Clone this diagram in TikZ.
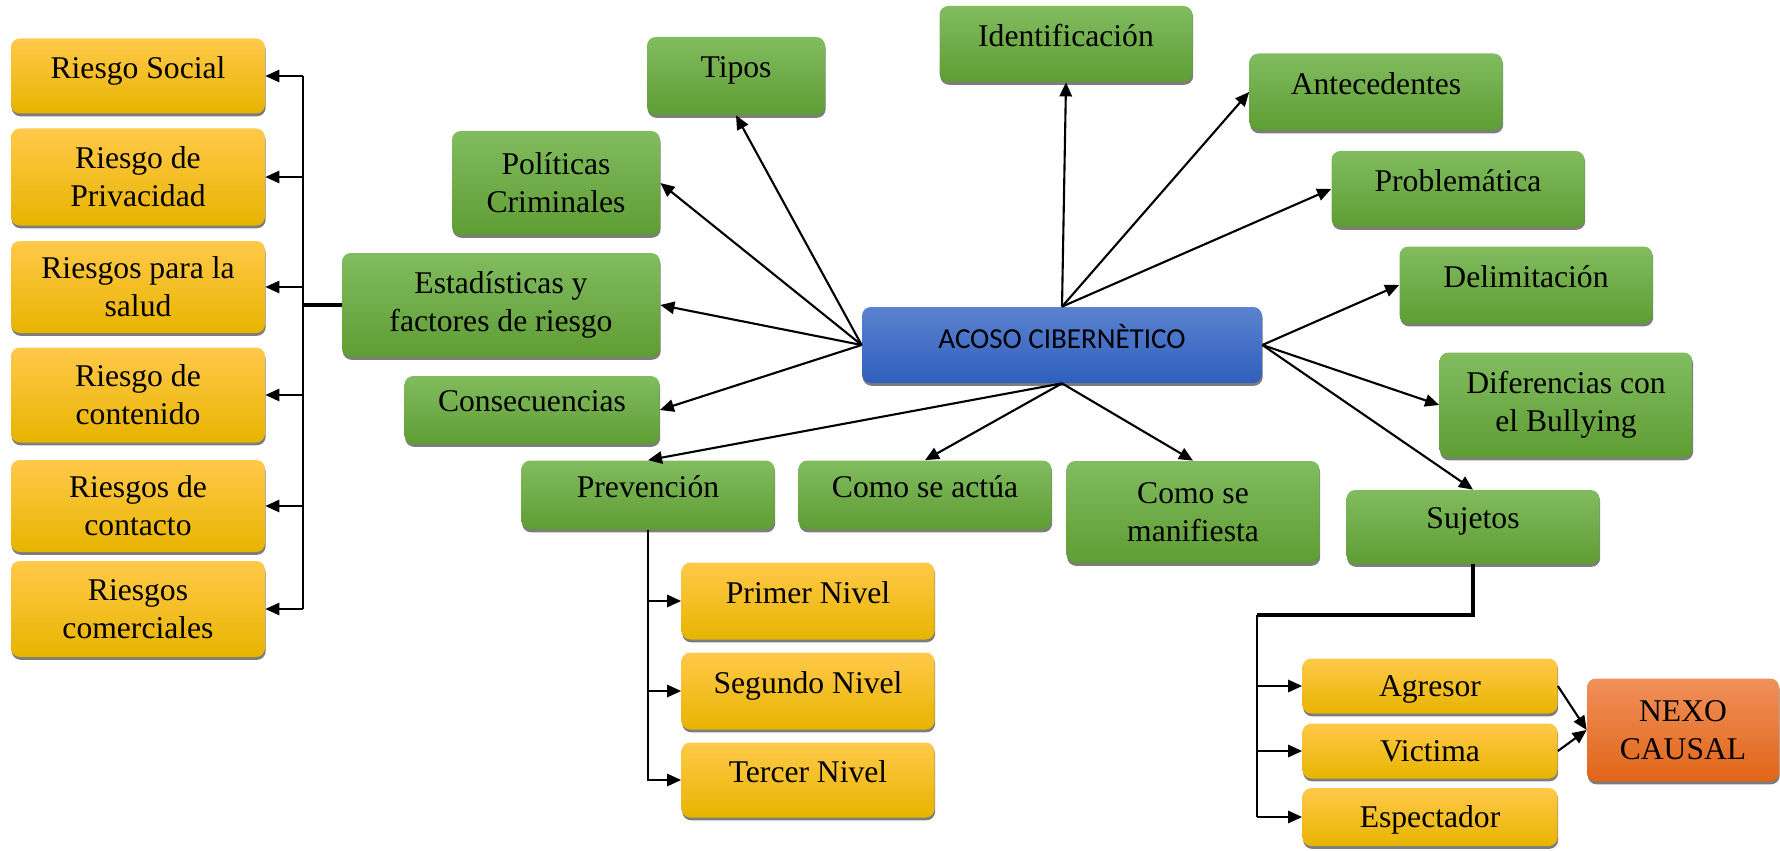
\documentclass[tikz,border=0pt]{standalone}
\usepackage{fontspec}
\setmainfont{Liberation Serif}
\newfontfamily\calibri{Carlito}
\usetikzlibrary{arrows.meta,shadows}

\definecolor{verdeA}{RGB}{129,188,95}
\definecolor{verdeB}{RGB}{95,157,52}
\definecolor{amaA}{RGB}{255,201,74}
\definecolor{amaB}{RGB}{232,180,0}
\definecolor{azulA}{RGB}{91,130,208}
\definecolor{azulB}{RGB}{47,95,189}
\definecolor{narA}{RGB}{240,144,90}
\definecolor{narB}{RGB}{224,101,24}

\tikzset{
  caja/.style={rectangle, rounded corners=5pt, align=center, inner sep=2pt,
    font=\fontsize{18}{21.5}\selectfont,
    drop shadow={shadow xshift=0.4pt, shadow yshift=-1.6pt, opacity=0.85, fill=black!60}},
  tam/.style 2 args={minimum width=#1*0.02cm, minimum height=#2*0.02cm},
  verde/.style={caja, top color=verdeA, bottom color=verdeB},
  amarilla/.style={caja, top color=amaA, bottom color=amaB},
  azul/.style={caja, top color=azulA, bottom color=azulB},
  naranja/.style={caja, top color=narA, bottom color=narB},
  una/.style={text depth=10pt},
  baja/.style={text height=16pt, text depth=4pt},
  flecha/.style={line width=1.2pt, -{Triangle[length=8pt,width=7pt]}},
  linea/.style={line width=1.2pt},
  tronco/.style={line width=2.2pt}
}

\begin{document}
\begin{tikzpicture}[x=0.02cm, y=-0.02cm]
			%%%%% START %%%%%
			\useasboundingbox (0,0) rectangle (1780,851);
			
			\node[azul, tam={400}{76}, una, font=\calibri\fontsize{16.5}{19}\selectfont] (acoso) at (1062,345) {ACOSO CIBERN\`ETICO};
			
			% ramas verdes
			\node[verde, tam={178}{78}, una] (tipos) at (736,76) {Tipos};
			\node[verde, tam={208}{104}] (pol) at (556,183) {Políticas\\Criminales};
			\node[verde, tam={318}{104}] (est) at (501,305) {Estadísticas y\\factores de riesgo};
			\node[verde, tam={255}{68}, una] (cons) at (532,410) {Consecuencias};
			\node[verde, tam={253}{76}, una] (ident) at (1066,44) {Identificación};
			\node[verde, tam={253}{77}, una] (ante) at (1376,92) {Antecedentes};
			\node[verde, tam={253}{76}, una] (prob) at (1458,189) {Problemática};
			\node[verde, tam={253}{77}, una] (delim) at (1526,285) {Delimitación};
			\node[verde, tam={253}{105}] (dif) at (1566,405) {Diferencias con\\el Bullying};
			\node[verde, tam={253}{74}, una] (suj) at (1473,527) {Sujetos};
			\node[verde, tam={253}{102}] (man) at (1193,512) {Como se\\manifiesta};
			\node[verde, tam={253}{69}, una] (act) at (925,495) {Como se actúa};
			\node[verde, tam={253}{69}, una] (prev) at (648,495) {Prevención};
			
			\draw[flecha] (acoso.west) -- (tipos.south);
			\draw[flecha] (acoso.west) -- (pol.east);
			\draw[flecha] (acoso.west) -- (est.east);
			\draw[flecha] (acoso.west) -- (cons.east);
			\draw[flecha] (acoso.north) -- (ident.south);
			\draw[flecha] (acoso.north) -- (ante.west);
			\draw[flecha] (acoso.north) -- (prob.west);
			\draw[flecha] (acoso.east) -- (delim.west);
			\draw[flecha] (acoso.east) -- (dif.west);
			\draw[flecha] (acoso.east) -- (suj.north);
			\draw[flecha] (acoso.south) -- (prev.north);
			\draw[flecha] (acoso.south) -- (act.north);
			\draw[flecha] (acoso.south) -- (man.north);
			
			% riesgos
			\node[amarilla, tam={254}{75}, una] (rs) at (138,76) {Riesgo Social};
			\node[amarilla, tam={254}{97}] (rp) at (138,177) {Riesgo de\\Privacidad};
			\node[amarilla, tam={254}{92}] (rsal) at (138,287) {Riesgos para la\\salud};
			\node[amarilla, tam={254}{95}] (rc) at (138,395) {Riesgo de\\contenido};
			\node[amarilla, tam={254}{92}] (rct) at (138,506) {Riesgos de\\contacto};
			\node[amarilla, tam={254}{96}] (rcom) at (138,609) {Riesgos\\comerciales};
			
			\coordinate (eje) at (303,305);
			\draw[tronco] (est.west) -- (eje);
			\draw[linea] (eje |- rs.east) -- (eje |- rcom.east);
			\foreach \r in {rs,rp,rsal,rc,rct,rcom}
				\draw[flecha] (eje |- \r.east) -- (\r.east);
			
			% niveles
			\node[amarilla, tam={253}{77}, una] (n1) at (808,601) {Primer Nivel};
			\node[amarilla, tam={253}{77}, una] (n2) at (808,691) {Segundo Nivel};
			\node[amarilla, tam={253}{75}, una] (n3) at (808,780) {Tercer Nivel};
			
			\draw[flecha] (prev.south) |- (n3.west);
			\draw[flecha] (prev.south |- n1.west) -- (n1.west);
			\draw[flecha] (prev.south |- n2.west) -- (n2.west);
			
			% sujetos
			\node[amarilla, tam={255}{55}, baja] (agr) at (1430,686) {Agresor};
			\node[amarilla, tam={255}{55}, baja] (vic) at (1430,751) {Victima};
			\node[amarilla, tam={255}{58}, baja] (esp) at (1430,817) {Espectador};
			\node[naranja, tam={192}{103}] (nexo) at (1683,730) {NEXO\\CAUSAL};
			
			\coordinate (codo) at (1257,615);
			\draw[tronco] (suj.south) |- (codo);
			\draw[linea] (codo) -- (codo |- esp.west);
			\foreach \s in {agr,vic,esp}
				\draw[flecha] (codo |- \s.west) -- (\s.west);
			\draw[flecha] (agr.east) -- (nexo.west);
			\draw[flecha] (vic.east) -- (nexo.west);
			
			%%%%% END %%%%%
\end{tikzpicture}
\end{document}
